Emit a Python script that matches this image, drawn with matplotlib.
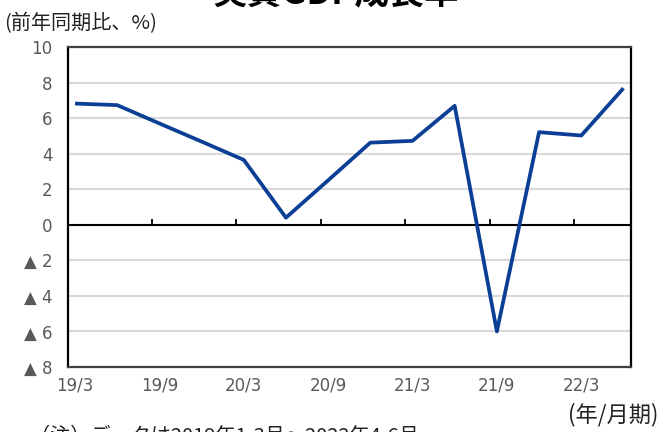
import numpy as np
import matplotlib
matplotlib.use("Agg")
import matplotlib.pyplot as plt

# quarterly real GDP growth, y/y %
quarters = ["19/3", "19/6", "19/9", "19/12", "20/3", "20/6", "20/9", "20/12",
            "21/3", "21/6", "21/9", "21/12", "22/3", "22/6"]
growth = [6.82, 6.73, 5.7, 4.68, 3.65, 0.4, 2.5, 4.62,
          4.72, 6.69, -6.0, 5.21, 5.02, 7.68]
tick_labels = ["19/3", "19/9", "20/3", "20/9", "21/3", "21/9", "22/3"]
y_ticks = [10, 8, 6, 4, 2, 0, -2, -4, -6, -8]

jp = ["Noto Sans CJK JP", "DejaVu Sans"]
grey = "#595959"

fig = plt.figure(figsize=(6.71, 4.32), dpi=100)
ax = fig.add_axes([0.1009, 0.1505, 0.8391, 0.7407])

x = np.arange(len(quarters))
pad = 0.173
ax.set_xlim(-pad, len(quarters) - 1 + pad)
ax.set_ylim(-8, 10)

for v in y_ticks:
    if v == 0:
        continue
    ax.axhline(v, color="#d9d9d9", lw=1.5, zorder=1)
ax.axhline(0, color="black", lw=1.5, zorder=2)
# small tick marks sitting on the zero line
ax.vlines(np.arange(2, len(quarters), 2) - pad, 0, 0.33, color="black", lw=1.3, zorder=2)

ax.plot(x, growth, color="#0b3f96", lw=2.7, zorder=3, solid_capstyle="butt")

ax.set_yticks(y_ticks)
ax.set_yticklabels([str(v) if v >= 0 else "▲ " + str(-v) for v in y_ticks])
ax.set_xticks(np.arange(0, len(quarters), 2))
ax.set_xticklabels(tick_labels)
ax.tick_params(axis="both", length=0, labelsize=12, labelcolor=grey)
ax.tick_params(axis="y", pad=11)
ax.tick_params(axis="x", pad=7)

for side in ["left", "right"]:
    ax.spines[side].set_color("black")
    ax.spines[side].set_linewidth(1.6)
for side in ["top", "bottom"]:
    ax.spines[side].set_color("#404040")
    ax.spines[side].set_linewidth(1.6)

fig.text(0.5, 0.9907, "実質GDP成長率", ha="center", va="baseline",
         fontsize=25, fontweight="bold", family=jp)
fig.text(0.006, 0.945, "(前年同期比、%)", ha="left", va="center",
         fontsize=14.5, family=jp, color="#222222")
fig.text(0.846, 0.04, "(年/月期)", ha="left", va="center",
         fontsize=16, family=jp, color="#222222")
fig.text(0.045, -0.01, "（注）データは2019年1-3月～2022年4-6月", ha="left", va="center",
         fontsize=14.5, family=jp, color="#222222")

fig.savefig("out.png", dpi=100)
